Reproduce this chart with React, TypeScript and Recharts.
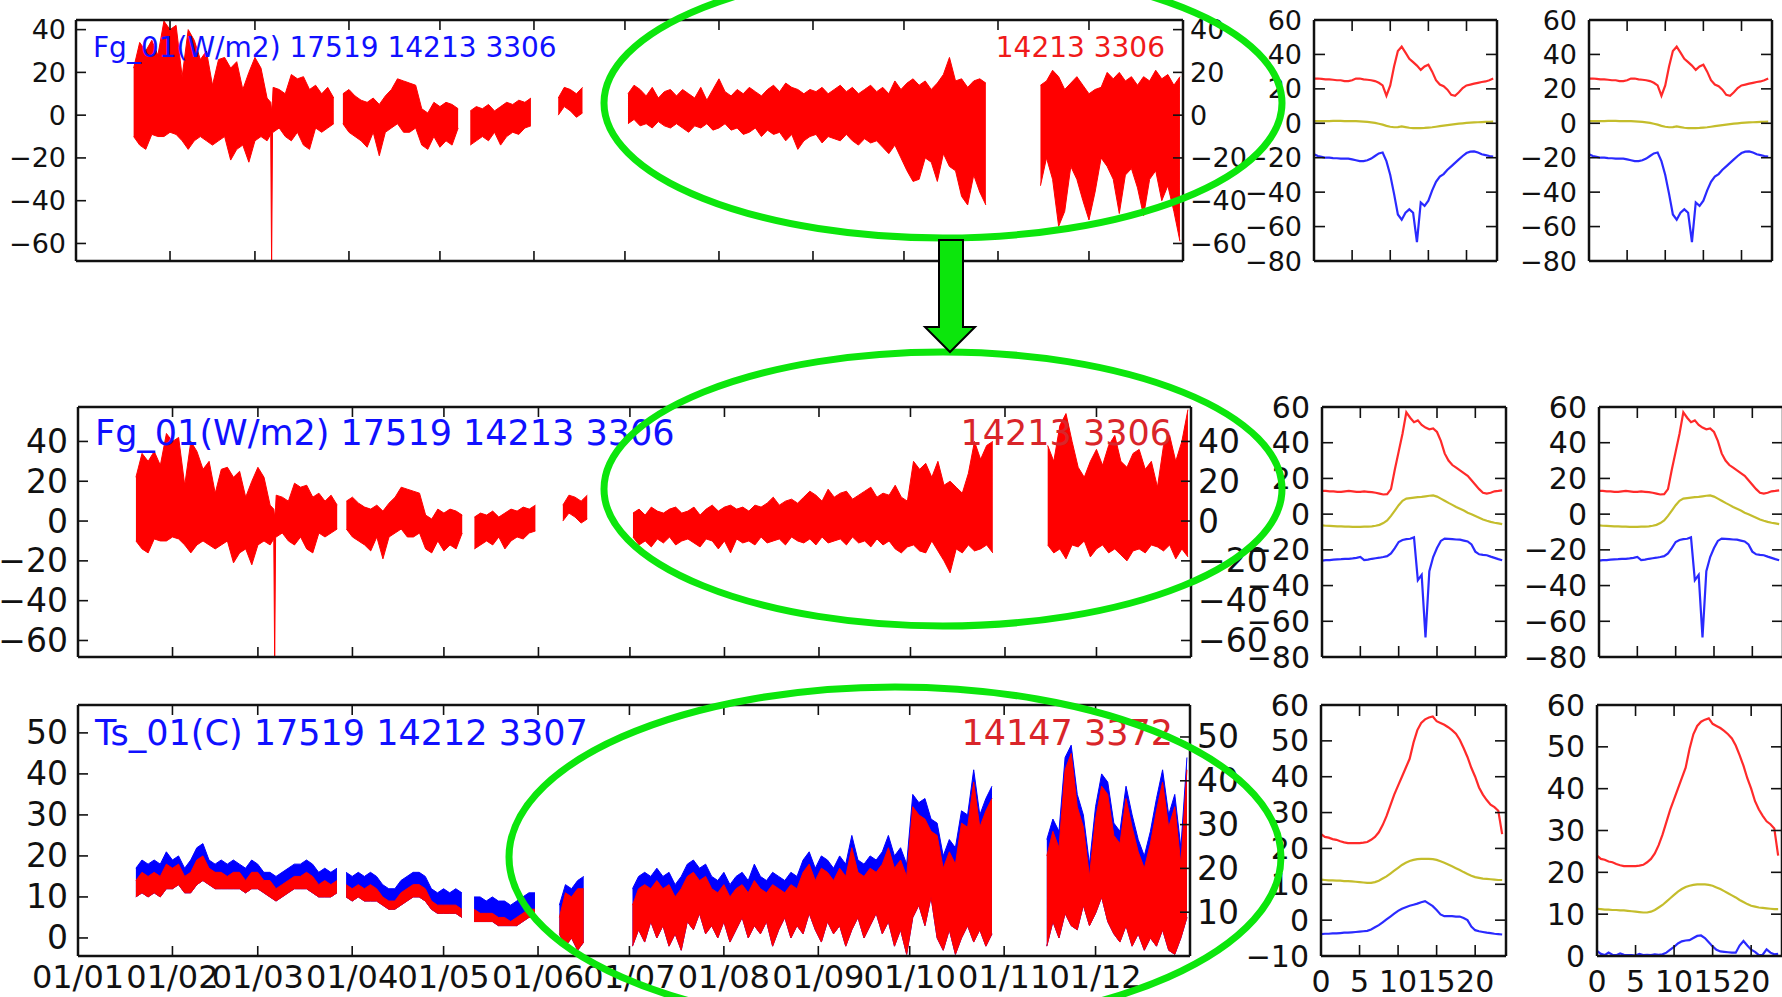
import React from 'react';
import { ComposedChart, Area, Line, XAxis, YAxis } from 'recharts';

const FONT = 'DejaVu Sans, Verdana, sans-serif';
const INK = '#111111';
const RED = '#ff0000';
const BLUE = '#1010ff';
const OLIVE = '#c4bd2c';
const GREEN = '#0ce60c';

// ---------- axes / categories ----------
const MONTH_DAYS = [0, 31, 59, 90, 120, 151, 181, 212, 243, 273, 304, 334];
const MONTH_LABELS = ['01/01', '01/02', '01/03', '01/04', '01/05', '01/06', '01/07', '01/08', '01/09', '01/10', '01/11', '01/12'];
const HOUR_TICKS = [0, 5, 10, 15, 20];
const STEP = 2; // days between envelope readings

// ---------- Fg_01 (top panel, before) : envelope readings (hi / lo) ----------
const FG_A_START = 19;
const FG_A_HI = [22, 34, 30, 35, 28, 44, 40, 42, 18, 40, 35, 26, 30, 14, 26, 27, 22, 25, 12, 20, 27, 22, 8, 13, 12, 10, 19, 17, 18, 12, 14, 10, 13, 8];
const FG_A_LO = [-10, -14, -16, -9, -10, -10, -8, -9, -12, -16, -12, -10, -12, -14, -12, -10, -21, -16, -14, -22, -12, -10, -12, -8, -6, -10, -12, -8, -14, -16, -6, -8, -6, -4];
const FG_B_START = 88;
const FG_B_HI = [10, 12, 9, 7, 6, 8, 5, 9, 12, 17, 16, 15, 14, 3, 1, 6, 4, 6, 5, 3];
const FG_B_LO = [-4, -8, -10, -12, -15, -8, -19, -8, -6, -4, -8, -8, -6, -14, -16, -10, -15, -12, -14, -6];
const FG_C_START = 130;
const FG_C_HI = [2, 4, 3, 5, 2, 4, 6, 5, 7, 6, 8];
const FG_C_LO = [-14, -12, -10, -12, -8, -14, -10, -8, -9, -6, -5];
const FG_D_START = 159;
const FG_D_HI = [8, 13, 12, 10, 13];
const FG_D_LO = [0, 4, 2, -1, 1];
const FG_SPIKE_DAYS = [64.2, 64.5, 64.8];
const FG_SPIKE_HI = [6, 2, 7];
const FG_SPIKE_LO = [-9, -72, -8];

const FG1_E_START = 182;
const FG1_E_HI = [10, 14, 12, 9, 13, 8, 11, 12, 9, 12, 10, 8, 13, 7, 12, 17, 11, 9, 12, 10, 13, 11, 9, 12, 14, 11, 15, 13, 12, 10, 12, 11, 13, 10, 12, 14, 11, 13, 10, 12, 14, 11, 13, 10, 16, 12, 15, 17, 14, 16, 12, 15, 19, 27, 16, 17, 13, 16, 17, 15];
const FG1_E_LO = [-4, -2, -5, -4, -6, -3, -5, -6, -4, -6, -8, -5, -6, -4, -7, -6, -4, -7, -6, -9, -8, -6, -10, -7, -9, -8, -12, -9, -16, -12, -10, -9, -13, -10, -11, -12, -9, -12, -14, -11, -13, -12, -15, -18, -14, -20, -26, -31, -30, -20, -22, -31, -18, -24, -26, -38, -42, -28, -36, -42];
const FG1_F_START = 318;
const FG1_F_HI = [14, 16, 21, 18, 12, 15, 18, 14, 10, 12, 13, 20, 17, 20, 16, 18, 14, 18, 16, 21, 17, 19, 14, 18];
const FG1_F_LO = [-33, -20, -30, -52, -45, -24, -30, -40, -49, -36, -20, -24, -30, -46, -28, -25, -34, -47, -30, -26, -40, -33, -45, -59];

// ---------- Fg_01 (middle panel, after) ----------
const FG2_E_START = 182;
const FG2_E_HI = [4, 6, 3, 7, 5, 4, 6, 7, 4, 5, 7, 3, 6, 8, 5, 7, 8, 6, 7, 5, 8, 7, 9, 12, 8, 10, 11, 9, 12, 15, 13, 10, 16, 12, 14, 15, 11, 13, 15, 17, 12, 14, 13, 18, 12, 10, 30, 26, 29, 22, 30, 18, 20, 17, 14, 24, 40, 31, 38, 40];
const FG2_E_LO = [-8, -12, -10, -13, -9, -11, -8, -12, -10, -9, -11, -13, -9, -10, -14, -10, -16, -9, -11, -10, -12, -8, -11, -10, -9, -12, -8, -10, -11, -9, -12, -8, -11, -10, -9, -12, -8, -11, -10, -13, -9, -12, -10, -14, -16, -13, -12, -15, -16, -10, -15, -20, -26, -14, -16, -12, -15, -14, -12, -16];
const FG2_F_START = 318;
const FG2_F_HI = [38, 30, 48, 54, 40, 27, 22, 30, 36, 28, 38, 43, 30, 27, 34, 36, 26, 30, 17, 38, 43, 30, 40, 56];
const FG2_F_LO = [-12, -16, -14, -19, -12, -13, -10, -18, -14, -12, -16, -14, -17, -20, -15, -14, -16, -12, -13, -15, -12, -19, -14, -18];

// ---------- Ts_01 (bottom panel): blue top, red top, red bottom ----------
const TS_A_START = 19;
const TS_A_BHI = [17, 19, 18, 19, 18, 21, 19, 20, 17, 19, 22, 23, 19, 18, 19, 18, 19, 18, 17, 19, 18, 16, 16, 15, 16, 17, 18, 18, 19, 18, 16, 17, 16, 17];
const TS_A_RHI = [14, 16, 15, 16, 15, 18, 17, 18, 15, 16, 19, 20, 17, 16, 16, 15, 16, 16, 14, 16, 16, 14, 14, 12, 13, 14, 15, 15, 16, 15, 13, 14, 13, 14];
const TS_A_RLO = [10, 11, 10, 11, 10, 12, 12, 13, 11, 11, 13, 14, 13, 12, 12, 12, 12, 12, 11, 12, 12, 11, 10, 9, 10, 11, 12, 12, 12, 11, 10, 10, 10, 11];
const TS_B_START = 88;
const TS_B_BHI = [16, 15, 16, 15, 16, 15, 13, 12, 12, 14, 15, 16, 16, 15, 12, 11, 12, 11, 12, 11];
const TS_B_RHI = [13, 12, 13, 12, 13, 12, 10, 9, 9, 11, 12, 13, 13, 12, 9, 8, 8, 8, 8, 7];
const TS_B_RLO = [10, 9, 10, 9, 9, 9, 8, 7, 7, 8, 9, 10, 10, 9, 7, 6, 6, 6, 6, 5];
const TS_C_START = 130;
const TS_C_BHI = [10, 10, 9, 10, 9, 9, 8, 9, 10, 11, 11];
const TS_C_RHI = [7, 6, 6, 6, 5, 5, 4, 5, 6, 7, 7];
const TS_C_RLO = [4, 4, 4, 4, 3, 3, 3, 3, 4, 5, 5];
const TS_D_START = 158;
const TS_D_BHI = [8, 13, 12, 14, 15];
const TS_D_RHI = [5, 11, 10, 12, 12];
const TS_D_RLO = [1, -2, 0, -3, -1];
const TS_E_START = 182;
const TS_E_BHI = [12, 15, 16, 15, 17, 15, 16, 13, 15, 18, 19, 17, 18, 15, 14, 16, 13, 15, 16, 14, 18, 15, 14, 16, 15, 14, 16, 15, 19, 21, 17, 20, 19, 17, 20, 18, 25, 19, 18, 20, 19, 21, 25, 20, 22, 18, 35, 33, 34, 29, 28, 20, 24, 22, 31, 30, 41, 30, 34, 37];
const TS_E_RHI = [8, 12, 13, 12, 14, 12, 13, 10, 12, 15, 16, 14, 15, 12, 11, 13, 10, 12, 13, 11, 14, 12, 11, 13, 12, 11, 13, 12, 16, 18, 14, 17, 16, 14, 17, 15, 22, 16, 15, 17, 16, 18, 22, 17, 19, 15, 32, 30, 29, 26, 25, 17, 21, 18, 28, 27, 38, 27, 31, 34];
const TS_E_RLO = [-2, 2, -1, 4, 0, 3, -2, 1, -3, 4, 2, 6, 1, 3, 0, 4, -1, 2, 5, 0, 3, 1, 4, -2, 2, 5, 0, 3, 1, 6, 2, -1, 4, 1, 3, -2, 2, 5, 0, 3, 6, 1, 4, -2, 2, -4, 5, 8, 3, 10, 0, -3, 2, -4, 0, 3, -1, 2, -2, 1];
const TS_F_START = 318;
const TS_F_BHI = [24, 29, 26, 44, 47, 35, 30, 18, 32, 40, 38, 28, 26, 37, 30, 24, 20, 26, 34, 41, 30, 35, 22, 44];
const TS_F_RHI = [20, 26, 22, 41, 45, 32, 27, 15, 29, 37, 35, 25, 23, 34, 27, 21, 17, 23, 31, 38, 27, 32, 18, 41];
const TS_F_RLO = [-2, 4, 0, 6, 3, 2, 8, 3, 6, 10, 4, 1, -1, 3, -2, 1, -3, 0, -2, 2, -3, -4, 0, 5];

// ---------- diurnal panels (half-hourly, 0 .. 23.5 h) ----------
const R1_RED = [26, 26, 25.8, 25.5, 25.5, 25.3, 25, 25, 24.5, 24.5, 25, 26, 26, 25.5, 25.3, 25, 24.5, 23.5, 22, 16, 22, 33, 42, 44.5, 41, 37.5, 35.5, 33.5, 31, 33, 34, 30, 25, 22.5, 21.5, 19.5, 16.5, 16, 18, 20.5, 22, 22.5, 23, 23.5, 24, 24.3, 25, 26];
const R1_OLIVE = [1.2, 1.2, 1.3, 1.3, 1.3, 1.4, 1.4, 1.4, 1.3, 1.3, 1.2, 1.2, 1.1, 1.0, 0.8, 0.5, 0.2, -0.3, -0.8, -1.5, -2, -2.3, -2.2, -1.8, -2.2, -2.6, -2.8, -2.8, -2.8, -2.7, -2.5, -2.3, -2.0, -1.7, -1.4, -1.1, -0.8, -0.5, -0.2, 0, 0.2, 0.4, 0.5, 0.6, 0.7, 0.8, 0.9, 1.0];
const R1_BLUE = [-18, -19, -19.5, -20, -20, -20.2, -20.3, -20.5, -20.5, -20.5, -21, -21.5, -22, -22, -21.5, -20.5, -19, -17.5, -17, -22, -30, -41, -53, -56, -52, -50, -52, -69, -46, -48, -45, -39, -34, -31, -29.5, -27, -25, -23, -21, -19, -17.3, -16.5, -16.3, -17, -18, -18.5, -19, -19.3];
const R2_RED = [13, 13, 12.8, 12.7, 12.5, 12.5, 12.8, 13, 12.8, 12.5, 12.5, 12.7, 12.5, 12.3, 12, 11.5, 11, 11.2, 14, 25, 35, 45, 57, 54, 51.5, 52.5, 50, 48.5, 47.5, 48, 46, 41, 34, 30, 27.5, 26, 24.5, 23, 21.5, 19, 16.5, 14, 12, 11.5, 12, 12.8, 13, 13.3];
const R2_OLIVE = [-6.3, -6.5, -6.6, -6.7, -6.8, -6.9, -7, -7, -7.1, -7.1, -7.1, -7, -7, -6.8, -6.5, -6, -5, -3.5, -1, 2, 5, 7.5, 8.7, 9, 9.3, 9.5, 9.7, 10, 10.3, 10.5, 9.8, 8.7, 7.5, 6.3, 5.2, 4, 3, 2, 0.8, 0, -1, -2, -3, -3.7, -4.3, -4.8, -5.2, -5.6];
const R2_BLUE = [-26, -25.8, -25.7, -25.5, -25.3, -25.2, -25, -25, -24.8, -24.5, -24, -25.8, -25.5, -25, -24.7, -24.4, -24, -23.5, -22, -19, -15.6, -14.5, -14, -13.8, -13, -37, -34, -69, -32, -24, -19, -15, -13.7, -13.8, -14, -14.2, -14.3, -14.8, -15.3, -17, -21, -22.5, -22.8, -23, -23.8, -24.5, -25.2, -25.8];
const R3_RED = [24, 23.2, 23, 22.6, 22.4, 22, 21.7, 21.5, 21.5, 21.5, 21.5, 21.6, 21.8, 22.4, 23.2, 24.5, 26.5, 29, 32, 35, 37.5, 40, 42.5, 45, 49.5, 53, 55, 56, 56.5, 56.8, 55.5, 55, 54.5, 53.8, 53, 52, 50.3, 48, 45.5, 42.5, 40, 37, 35, 33.5, 32.2, 31.5, 30.5, 24];
const R3_OLIVE = [11.3, 11.2, 11.1, 11.1, 11, 11, 10.9, 10.9, 10.8, 10.7, 10.6, 10.5, 10.4, 10.4, 10.6, 11, 11.6, 12.2, 13, 13.8, 14.6, 15.4, 16, 16.5, 16.8, 17, 17.1, 17.1, 17.1, 17, 16.8, 16.4, 16, 15.5, 15, 14.5, 14, 13.4, 12.9, 12.4, 12, 11.8, 11.6, 11.5, 11.4, 11.3, 11.2, 11.2];
const R3_BLUE = [-3.9, -3.8, -3.8, -3.7, -3.7, -3.6, -3.5, -3.5, -3.4, -3.3, -3.2, -3.1, -3, -2.6, -2, -1.4, -0.6, 0.2, 1, 1.8, 2.6, 3.2, 3.6, 4, 4.3, 4.6, 5, 5.3, 4.6, 3.9, 2.8, 1.6, 1.1, 1.1, 1.1, 1, 1, 0.6, 0, -1.8, -2.8, -3.1, -3.3, -3.5, -3.6, -3.8, -3.9, -4];
const R3_BLUE2 = [1.2, 0.5, 0.2, 0.8, 0.3, 0.2, 0.6, 0.3, 0.2, 0.2, 0.1, 0.5, 0.2, 0.3, 0.2, 0.4, 0.3, 0.4, 0.8, 1.5, 2.2, 3, 3.5, 3.7, 3.8, 4.3, 4.8, 4.9, 4.3, 3.3, 2.3, 1.5, 1.1, 1, 0.9, 0.8, 0.8, 2.5, 3.6, 2.5, 1.5, 1, 0.2, 0.3, 1.6, 0.8, 0.4, 0.5];

// ---------- table builders ----------
type Seg2 = { start: number; hi: number[]; lo: number[] };
function fgRows(segs: Seg2[], exDays: number[], exHi: number[], exLo: number[]) {
  const rows: { d: number; r: [number, number] | null }[] = [];
  segs.forEach((s) => {
    s.hi.forEach((h, i) => rows.push({ d: s.start + i * STEP, r: [s.lo[i], h] }));
    rows.push({ d: s.start + (s.hi.length - 1) * STEP + 1, r: null });
  });
  exDays.forEach((d, i) => rows.push({ d, r: [exLo[i], exHi[i]] }));
  return rows.sort((a, b) => a.d - b.d);
}
type Seg3 = { start: number; bHi: number[]; rHi: number[]; rLo: number[] };
function tsRows(segs: Seg3[]) {
  const rows: { d: number; b: [number, number] | null; r: [number, number] | null }[] = [];
  segs.forEach((s) => {
    s.bHi.forEach((bh, i) => rows.push({ d: s.start + i * STEP, b: [s.rLo[i], bh], r: [s.rLo[i], s.rHi[i]] }));
    rows.push({ d: s.start + (s.bHi.length - 1) * STEP + 1, b: null, r: null });
  });
  return rows;
}
function dayRows(red: number[], olive: number[], blue: number[]) {
  return red.map((v, i) => ({ h: i * 0.5, r: v, y: olive[i], b: blue[i] }));
}

const FG_COMMON: Seg2[] = [
  { start: FG_A_START, hi: FG_A_HI, lo: FG_A_LO },
  { start: FG_B_START, hi: FG_B_HI, lo: FG_B_LO },
  { start: FG_C_START, hi: FG_C_HI, lo: FG_C_LO },
  { start: FG_D_START, hi: FG_D_HI, lo: FG_D_LO },
];
const ROWS1 = fgRows(
  [...FG_COMMON, { start: FG1_E_START, hi: FG1_E_HI, lo: FG1_E_LO }, { start: FG1_F_START, hi: FG1_F_HI, lo: FG1_F_LO }],
  FG_SPIKE_DAYS, FG_SPIKE_HI, FG_SPIKE_LO
);
const ROWS2 = fgRows(
  [...FG_COMMON, { start: FG2_E_START, hi: FG2_E_HI, lo: FG2_E_LO }, { start: FG2_F_START, hi: FG2_F_HI, lo: FG2_F_LO }],
  FG_SPIKE_DAYS, FG_SPIKE_HI, FG_SPIKE_LO
);
const ROWS3 = tsRows([
  { start: TS_A_START, bHi: TS_A_BHI, rHi: TS_A_RHI, rLo: TS_A_RLO },
  { start: TS_B_START, bHi: TS_B_BHI, rHi: TS_B_RHI, rLo: TS_B_RLO },
  { start: TS_C_START, bHi: TS_C_BHI, rHi: TS_C_RHI, rLo: TS_C_RLO },
  { start: TS_D_START, bHi: TS_D_BHI, rHi: TS_D_RHI, rLo: TS_D_RLO },
  { start: TS_E_START, bHi: TS_E_BHI, rHi: TS_E_RHI, rLo: TS_E_RLO },
  { start: TS_F_START, bHi: TS_F_BHI, rHi: TS_F_RHI, rLo: TS_F_RLO },
]);
const DAY1 = dayRows(R1_RED, R1_OLIVE, R1_BLUE);
const DAY2 = dayRows(R2_RED, R2_OLIVE, R2_BLUE);
const DAY3A = dayRows(R3_RED, R3_OLIVE, R3_BLUE);
const DAY3B = dayRows(R3_RED, R3_OLIVE, R3_BLUE2);

// ---------- tick renderers (inward ticks, matplotlib style) ----------
const fmtNum = (v: number) => (v < 0 ? '\u2212' + Math.abs(v) : String(v));
const fmtMonth = (v: number) => MONTH_LABELS[MONTH_DAYS.indexOf(v)] ?? '';
type TO = { m: number; len: number; fs: number; labels: boolean; fmt?: (v: number) => string };
const TICK_W = 1.6;

const leftTick = (o: TO) => (p: any) => (
  <g>
    <line x1={p.x + o.m} x2={p.x + o.m + o.len} y1={p.y} y2={p.y} stroke={INK} strokeWidth={TICK_W} />
    {o.labels && (
      <text x={p.x} y={p.y} textAnchor="end" dominantBaseline="central" fontSize={o.fs} fontFamily={FONT} fill={INK}>
        {(o.fmt || fmtNum)(p.payload.value)}
      </text>
    )}
  </g>
);
const rightTick = (o: TO) => (p: any) => (
  <g>
    <line x1={p.x - o.m} x2={p.x - o.m - o.len} y1={p.y} y2={p.y} stroke={INK} strokeWidth={TICK_W} />
    {o.labels && (
      <text x={p.x} y={p.y} textAnchor="start" dominantBaseline="central" fontSize={o.fs} fontFamily={FONT} fill={INK}>
        {(o.fmt || fmtNum)(p.payload.value)}
      </text>
    )}
  </g>
);
const topTick = (o: TO) => (p: any) => (
  <g>
    <line x1={p.x} x2={p.x} y1={p.y + o.m} y2={p.y + o.m + o.len} stroke={INK} strokeWidth={TICK_W} />
  </g>
);
const bottomTick = (o: TO) => (p: any) => (
  <g>
    <line x1={p.x} x2={p.x} y1={p.y - o.m} y2={p.y - o.m - o.len} stroke={INK} strokeWidth={TICK_W} />
    {o.labels && (
      <text x={p.x} y={p.y} dy="0.76em" textAnchor="middle" fontSize={o.fs} fontFamily={FONT} fill={INK}>
        {(o.fmt || fmtNum)(p.payload.value)}
      </text>
    )}
  </g>
);

const AXLINE = { stroke: INK, strokeWidth: 2.5 };
const ZERO = { top: 0, right: 0, bottom: 0, left: 0 };

// ---------- main time-series panel ----------
type MainCfg = {
  left: number; right: number; top: number; bottom: number;
  yDomain: [number, number]; yTicks: number[];
  rDomain: [number, number]; rTicks: number[];
  fs: number; xLabels: boolean; xfs: number;
};
function MainPanel({ cfg, data, series }: { cfg: MainCfg; data: any[]; series: React.ReactNode[] }) {
  const TOPH = 24, BOTH = 46, RW = 110;
  const W = cfg.right + RW;
  const H = TOPH + (cfg.bottom - cfg.top) + BOTH;
  const M = 6, L = 10;
  return (
    <div style={{ position: 'absolute', left: 0, top: cfg.top - TOPH, width: W, height: H }}>
      <ComposedChart width={W} height={H} data={data} margin={ZERO}>
        <XAxis xAxisId="t" orientation="top" type="number" dataKey="d" domain={[0, 365]} ticks={MONTH_DAYS}
          interval={0} height={TOPH} tickSize={0} tickMargin={M} axisLine={AXLINE} allowDataOverflow
          tick={topTick({ m: M, len: L, fs: 0, labels: false })} />
        <XAxis xAxisId="b" orientation="bottom" type="number" dataKey="d" domain={[0, 365]} ticks={MONTH_DAYS}
          interval={0} height={BOTH} tickSize={0} tickMargin={8} axisLine={AXLINE} allowDataOverflow
          tick={bottomTick({ m: 8, len: L, fs: cfg.xfs, labels: cfg.xLabels, fmt: fmtMonth })} />
        <YAxis yAxisId="l" orientation="left" type="number" width={cfg.left} domain={cfg.yDomain} ticks={cfg.yTicks}
          interval={0} tickSize={0} tickMargin={10} axisLine={AXLINE} allowDataOverflow
          tick={leftTick({ m: 10, len: L, fs: cfg.fs, labels: true })} />
        <YAxis yAxisId="r" orientation="right" type="number" width={RW} domain={cfg.rDomain} ticks={cfg.rTicks}
          interval={0} tickSize={0} tickMargin={7} axisLine={AXLINE} allowDataOverflow
          tick={rightTick({ m: 7, len: L, fs: cfg.fs, labels: true })} />
        {series}
      </ComposedChart>
    </div>
  );
}

// ---------- diurnal panel ----------
type SmallCfg = {
  left: number; right: number; top: number; bottom: number;
  yDomain: [number, number]; yTicks: number[]; fs: number; xLabels: boolean;
};
function SmallPanel({ cfg, data }: { cfg: SmallCfg; data: any[] }) {
  const LW = 100, RW = 20, TOPH = 20, BOTH = 50;
  const W = LW + (cfg.right - cfg.left) + RW;
  const H = TOPH + (cfg.bottom - cfg.top) + BOTH;
  const L = 11;
  return (
    <div style={{ position: 'absolute', left: cfg.left - LW, top: cfg.top - TOPH, width: W, height: H }}>
      <ComposedChart width={W} height={H} data={data} margin={ZERO}>
        <XAxis xAxisId="t" orientation="top" type="number" dataKey="h" domain={[0, 24]} ticks={HOUR_TICKS}
          interval={0} height={TOPH} tickSize={0} tickMargin={5} axisLine={AXLINE} allowDataOverflow
          tick={topTick({ m: 5, len: L, fs: 0, labels: false })} />
        <XAxis xAxisId="b" orientation="bottom" type="number" dataKey="h" domain={[0, 24]} ticks={HOUR_TICKS}
          interval={0} height={BOTH} tickSize={0} tickMargin={13} axisLine={AXLINE} allowDataOverflow
          tick={bottomTick({ m: 13, len: L, fs: 30, labels: cfg.xLabels })} />
        <YAxis yAxisId="l" orientation="left" type="number" width={LW} domain={cfg.yDomain} ticks={cfg.yTicks}
          interval={0} tickSize={0} tickMargin={12} axisLine={AXLINE} allowDataOverflow
          tick={leftTick({ m: 12, len: L, fs: cfg.fs, labels: true })} />
        <YAxis yAxisId="r" orientation="right" type="number" width={RW} domain={cfg.yDomain} ticks={cfg.yTicks}
          interval={0} tickSize={0} tickMargin={5} axisLine={AXLINE} allowDataOverflow
          tick={rightTick({ m: 5, len: L, fs: 0, labels: false })} />
        <Line xAxisId="b" yAxisId="l" type="linear" dataKey="r" stroke="#ff2a2a" strokeWidth={2.2} dot={false} activeDot={false} isAnimationActive={false} />
        <Line xAxisId="b" yAxisId="l" type="linear" dataKey="y" stroke={OLIVE} strokeWidth={2.2} dot={false} activeDot={false} isAnimationActive={false} />
        <Line xAxisId="b" yAxisId="l" type="linear" dataKey="b" stroke="#2a2aff" strokeWidth={2.2} dot={false} activeDot={false} isAnimationActive={false} />
      </ComposedChart>
    </div>
  );
}

const bandArea = (key: string, color: string) => (
  <Area key={key} xAxisId="b" yAxisId="l" type="linear" dataKey={key} stroke={color} strokeWidth={1}
    fill={color} fillOpacity={1} connectNulls={false} dot={false} activeDot={false} isAnimationActive={false} />
);

const CFG1: MainCfg = { left: 76, right: 1183, top: 20, bottom: 261, yDomain: [-68.2, 44.5], yTicks: [-60, -40, -20, 0, 20, 40], rDomain: [-68.2, 44.5], rTicks: [-60, -40, -20, 0, 20, 40], fs: 27, xLabels: false, xfs: 32 };
const CFG2: MainCfg = { left: 78, right: 1191, top: 407, bottom: 657, yDomain: [-68.3, 57.3], yTicks: [-60, -40, -20, 0, 20, 40], rDomain: [-68.3, 57.3], rTicks: [-60, -40, -20, 0, 20, 40], fs: 33, xLabels: false, xfs: 32 };
const CFG3: MainCfg = { left: 78, right: 1190, top: 705, bottom: 956, yDomain: [-4.4, 56.8], yTicks: [0, 10, 20, 30, 40, 50], rDomain: [0, 57.3], rTicks: [10, 20, 30, 40, 50], fs: 33, xLabels: true, xfs: 32 };

const FG_SMALL_TICKS = [-80, -60, -40, -20, 0, 20, 40, 60];
const S11: SmallCfg = { left: 1314, right: 1497, top: 20, bottom: 261, yDomain: [-80, 60], yTicks: FG_SMALL_TICKS, fs: 27, xLabels: false };
const S12: SmallCfg = { left: 1589, right: 1772, top: 20, bottom: 261, yDomain: [-80, 60], yTicks: FG_SMALL_TICKS, fs: 27, xLabels: false };
const S21: SmallCfg = { left: 1322, right: 1506, top: 407, bottom: 657, yDomain: [-80, 60], yTicks: FG_SMALL_TICKS, fs: 30, xLabels: false };
const S22: SmallCfg = { left: 1599, right: 1783, top: 407, bottom: 657, yDomain: [-80, 60], yTicks: FG_SMALL_TICKS, fs: 30, xLabels: false };
const S31: SmallCfg = { left: 1321, right: 1506, top: 705, bottom: 956, yDomain: [-10, 60], yTicks: [-10, 0, 10, 20, 30, 40, 50, 60], fs: 30, xLabels: true };
const S32: SmallCfg = { left: 1597, right: 1782, top: 705, bottom: 956, yDomain: [0, 60], yTicks: [0, 10, 20, 30, 40, 50, 60], fs: 30, xLabels: true };

export default function App() {
  return (
    <div style={{ position: 'absolute', left: 0, top: 0, width: 1782, height: 997, overflow: 'hidden', background: '#fff' }}>
      <MainPanel cfg={CFG1} data={ROWS1} series={[bandArea('r', RED)]} />
      <MainPanel cfg={CFG2} data={ROWS2} series={[bandArea('r', RED)]} />
      <MainPanel cfg={CFG3} data={ROWS3} series={[bandArea('b', '#0000ff'), bandArea('r', RED)]} />

      <SmallPanel cfg={S11} data={DAY1} />
      <SmallPanel cfg={S12} data={DAY1} />
      <SmallPanel cfg={S21} data={DAY2} />
      <SmallPanel cfg={S22} data={DAY2} />
      <SmallPanel cfg={S31} data={DAY3A} />
      <SmallPanel cfg={S32} data={DAY3B} />

      {/* panel captions + annotation overlay */}
      <svg width={1782} height={997} style={{ position: 'absolute', left: 0, top: 0, pointerEvents: 'none' }}>
        <text x={93} y={57} fontSize={28} fontFamily={FONT} fill={BLUE}>Fg_01(W/m2) 17519 14213 3306</text>
        <text x={1165} y={57} fontSize={28} fontFamily={FONT} fill="#f01a1a" textAnchor="end">14213 3306</text>
        <text x={95} y={445} fontSize={35} fontFamily={FONT} fill={BLUE}>Fg_01(W/m2) 17519 14213 3306</text>
        <text x={1172} y={445} fontSize={35} fontFamily={FONT} fill="#d9252a" textAnchor="end">14213 3306</text>
        <text x={95} y={745} fontSize={35} fontFamily={FONT} fill={BLUE}>Ts_01(C) 17519 14212 3307</text>
        <text x={1173} y={745} fontSize={35} fontFamily={FONT} fill="#d9252a" textAnchor="end">14147 3372</text>
        <ellipse cx={943} cy={103} rx={339} ry={135} fill="none" stroke={GREEN} strokeWidth={7} />
        <ellipse cx={943} cy={489} rx={339} ry={137} fill="none" stroke={GREEN} strokeWidth={7} />
        <ellipse cx={895} cy={857} rx={386} ry={170} fill="none" stroke={GREEN} strokeWidth={7} />
        <path d="M939,240 H963 V327 H975 L950,352 L925,327 H939 Z" fill={GREEN} stroke="#000" strokeWidth={2} />
      </svg>
    </div>
  );
}
